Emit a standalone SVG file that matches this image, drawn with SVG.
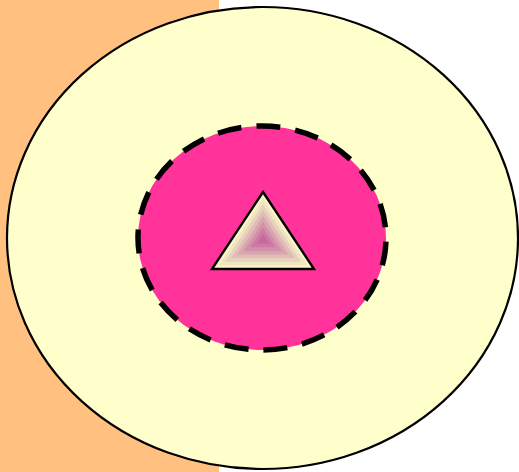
<svg xmlns="http://www.w3.org/2000/svg" width="519" height="472" viewBox="0 0 519 472">
<style>
.outline{stroke:#000;fill:none}
</style>
<rect x="0" y="0" width="519" height="472" fill="#ffffff"/>
<rect id="bg" x="0" y="0" width="219" height="472" fill="#ffc080"/>
<g id="outer">
<ellipse cx="262.5" cy="238" rx="255.5" ry="231" fill="#ffffcc" stroke="#000" stroke-width="2.2"/>
</g>
<g id="inner">
<ellipse cx="262" cy="238" rx="124" ry="112" fill="#ff3399" stroke="#000" stroke-width="5.5" stroke-dasharray="24 15.05" stroke-dashoffset="35.35"/>
</g>
<g id="triangle">
<g transform="translate(263 240)">
<polygon points="0,-48 -51,29 51,29" fill="#fbf7c8"/>
<polygon points="0,-42 -44.6,25.4 44.6,25.4" fill="#f2e6c2"/>
<polygon points="0,-36 -38.2,21.8 38.2,21.8" fill="#e8d2bc"/>
<polygon points="0,-30 -31.8,18.1 31.8,18.1" fill="#e0bcb6"/>
<polygon points="0,-24 -25.5,14.5 25.5,14.5" fill="#d9a6b0"/>
<polygon points="0,-18 -19.1,10.9 19.1,10.9" fill="#d290aa"/>
<polygon points="0,-12 -12.7,7.2 12.7,7.2" fill="#cd7aa4"/>
<polygon points="0,-6 -6.4,3.6 6.4,3.6" fill="#c8689e"/>
</g>
<polygon class="outline" points="263,192 212,269 314,269" stroke-width="2.4"/>
</g>
</svg>
